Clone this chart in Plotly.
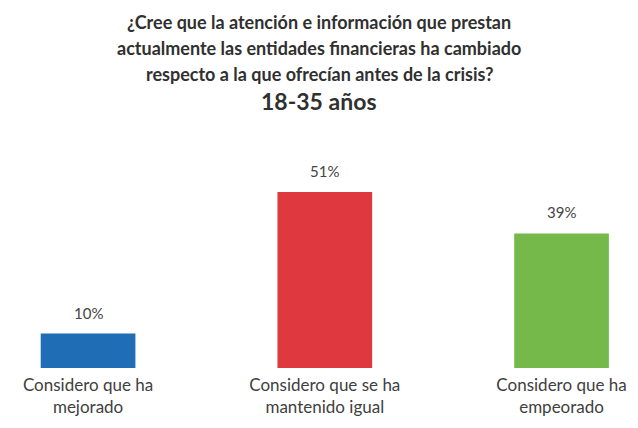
import plotly.graph_objects as go

categories = ["Considero que ha<br>mejorado",
              "Considero que se ha<br>mantenido igual",
              "Considero que ha<br>empeorado"]
values = [10, 51, 39]
labels = ["10%", "51%", "39%"]
colors = ["#1f6db4", "#e0383f", "#76b94b"]

title_lines = ["¿Cree que la atención e información que prestan",
               "actualmente las entidades financieras ha cambiado",
               "respecto a la que ofrecían antes de la crisis?"]
subtitle = "18-35 años"

W, H = 638, 428
top, bottom = 150, 60
plot_h = H - top - bottom
x_pos = list(range(len(values)))

fig = go.Figure(go.Bar(
    x=x_pos,
    y=values,
    width=0.40,
    marker=dict(color=colors, line=dict(width=0)),
    hoverinfo="skip",
))

def ypaper(px):
    return (H - bottom - px) / plot_h

annotations = []
for i, line in enumerate(title_lines):
    annotations.append(dict(
        text="<b>" + line + "</b>", x=0.5, xref="paper", y=ypaper(22 + 26 * i),
        yref="paper", xanchor="center", yanchor="middle", showarrow=False,
        font=dict(family="Lato", size=18, color="#303030")))
annotations.append(dict(
    text="<b>" + subtitle + "</b>", x=0.5, xref="paper", y=ypaper(101),
    yref="paper", xanchor="center", yanchor="middle", showarrow=False,
    font=dict(family="Lato", size=23, color="#303030")))

# value labels above each bar
for xi, v, lab in zip(x_pos, values, labels):
    annotations.append(dict(
        text=lab, x=xi, y=v, xref="x", yref="y", xanchor="center",
        yanchor="bottom", yshift=10, showarrow=False,
        font=dict(family="Lato", size=15, color="#454545")))

fig.update_layout(
    width=W, height=H,
    margin=dict(l=0, r=0, t=top, b=bottom, pad=0),
    paper_bgcolor="white", plot_bgcolor="white",
    showlegend=False,
    annotations=annotations,
    xaxis=dict(range=[-0.372, 2.323], tickvals=x_pos, ticktext=categories,
               showgrid=False, zeroline=False, showline=False, ticks="",
               ticklabelstandoff=5,
               tickfont=dict(family="Lato", size=17, color="#404040")),
    yaxis=dict(range=[0, 63.2], visible=False, showgrid=False, zeroline=False),
)

fig.write_html("out.html")
